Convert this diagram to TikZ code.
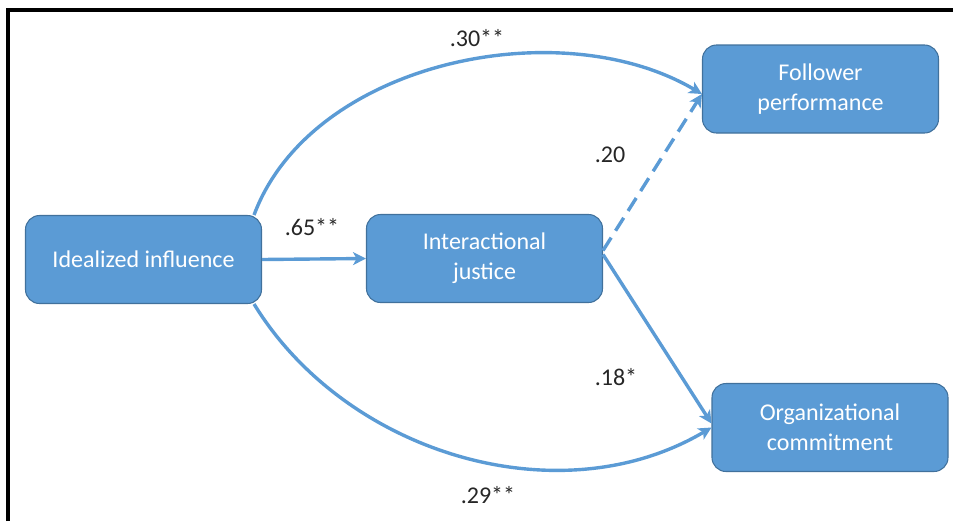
\documentclass[tikz,border=0pt]{standalone}
\usepackage{fontspec}
\setmainfont{Carlito}
\usepackage{tikz}
\usetikzlibrary{arrows.meta}

\definecolor{boxblue}{HTML}{5B9BD5}
\definecolor{boxline}{HTML}{41719C}
\definecolor{lbltext}{HTML}{262626}

\begin{document}
\begin{tikzpicture}[x=0.03cm, y=-0.03cm,
    box/.style={rectangle, rounded corners=0.42cm, draw=boxline, line width=0.9pt, fill=boxblue,
        text=white, align=center, minimum width=7.08cm, minimum height=2.64cm,
        font=\fontsize{20.5}{25.6}\selectfont},
    lbl/.style={text=lbltext, font=\fontsize{20.5}{24}\selectfont},
    arr/.style={draw=boxblue, line width=2.9pt, -{Stealth[length=11pt, width=11pt, inset=3pt]}}]
    \useasboundingbox (0,0) rectangle (953,521);
    \draw[line width=2.6pt] (8,521) -- (8,10) -- (953,10);
    \node[box] (ii) at (143.5,259.5) {Idealized influence};
    \node[box] (ij) at (484.5,258.5) {Interactional\\justice};
    \node[box] (fp) at (820.5,89) {Follower\\performance};
    \node[box] (oc) at (830,427.5) {Organizational\\commitment};
    \draw[arr] (ii.east) -- (ij.west);
    \draw[arr] ([xshift=-0.24cm]ii.north east) .. controls +(57,-153) and +(-142,-84) .. ([yshift=-0.15cm]fp.west);
    \draw[arr] ([xshift=-0.24cm]ii.south east) .. controls +(92,150) and +(-152,90) .. (oc.west);
    \draw[arr, dash pattern=on 13pt off 7pt] ([yshift=0.24cm]ij.east) -- ([yshift=-0.15cm]fp.west);
    \draw[arr] ([yshift=0.12cm]ij.east) -- ([yshift=0.12cm]oc.west);
    \node[lbl] (l30) at (477,38) {.30**};
    \node[lbl] (l20) at (610,155) {.20};
    \node[lbl] (l65) at (312,227) {.65**};
    \node[lbl] (l18) at (616,377) {.18*};
    \node[lbl] (l29) at (488,495) {.29**};
\end{tikzpicture}
\end{document}
